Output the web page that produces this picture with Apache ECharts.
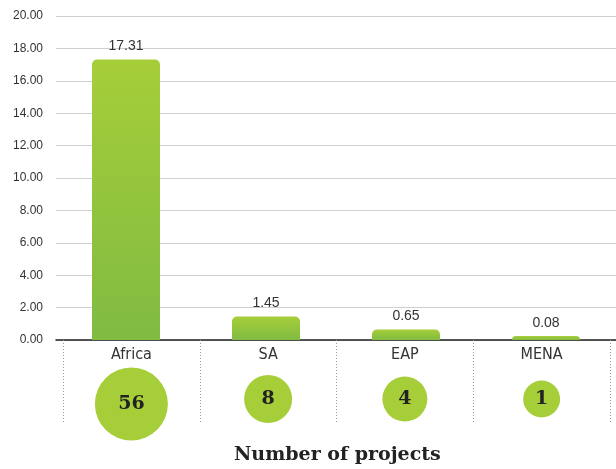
<!DOCTYPE html>
<html>
<head>
<meta charset="utf-8">
<script src="https://cdn.jsdelivr.net/npm/echarts@6/dist/echarts.min.js"></script>
<style>
html,body{margin:0;padding:0;background:#fff;}
#chart{width:616px;height:469px;}
</style>
</head>
<body>
<div id="chart"></div>
<script>
const categories = ['Africa', 'SA', 'EAP', 'MENA'];
const values = [17.31, 1.45, 0.65, 0.08];
const projects = [56, 8, 4, 1];
const yTicks = { min: 0, max: 20, interval: 2 };
const circleSizes = [73, 48, 45, 37];

const chart = echarts.init(document.getElementById('chart'));
const option = {
  animation: false,
  grid: [
    { left: 56, right: 0, top: 16, bottom: 129 },
    { left: 63, right: 6, top: 340, bottom: 11 }
  ],
  xAxis: [
    {
      gridIndex: 0, type: 'category', data: categories,
      axisLine: { show: true, lineStyle: { color: '#222', width: 1.5 } },
      axisTick: { show: false }, axisLabel: { show: false }
    },
    {
      gridIndex: 1, type: 'category', data: categories, position: 'top',
      axisLine: { show: false },
      axisTick: { show: true, inside: true, length: 84, lineStyle: { color: '#999', type: [1, 2], width: 1 } },
      axisLabel: {
        show: true, inside: true, margin: 7,
        fontFamily: '"DejaVu Sans Condensed", "Liberation Sans Narrow", "Liberation Sans", sans-serif',
        fontSize: 16, color: '#333'
      }
    }
  ],
  yAxis: [
    {
      gridIndex: 0, type: 'value', min: yTicks.min, max: yTicks.max, interval: yTicks.interval,
      axisLine: { show: false }, axisTick: { show: false },
      axisLabel: {
        margin: 13, fontFamily: '"Liberation Sans", Arial, sans-serif', fontSize: 12, color: '#333',
        formatter: v => v.toFixed(2)
      },
      splitLine: { lineStyle: { color: '#cfcfcf', width: 1 } }
    },
    {
      gridIndex: 1, type: 'category', data: ['projects'], show: false
    }
  ],
  series: [
    {
      type: 'bar', xAxisIndex: 0, yAxisIndex: 0, data: values,
      barWidth: 68, barMinHeight: 4,
      itemStyle: {
        borderRadius: [5, 5, 0, 0],
        color: new echarts.graphic.LinearGradient(0, 0, 0, 1, [
          { offset: 0, color: '#a6ce39' },
          { offset: 1, color: '#80bb42' }
        ])
      },
      label: {
        show: true, position: 'top', distance: 6,
        fontFamily: '"Liberation Sans", Arial, sans-serif', fontSize: 14, color: '#333',
        formatter: p => p.value.toFixed(2)
      }
    },
    {
      type: 'scatter', xAxisIndex: 1, yAxisIndex: 1,
      data: projects.map((c, i) => ({
        value: [categories[i], 'projects', c],
        symbolSize: circleSizes[i],
        symbolOffset: [0, i === 0 ? 5 : 0]
      })),
      itemStyle: { color: '#a6ce39', opacity: 1 },
      label: {
        show: true, position: 'inside',
        fontFamily: '"DejaVu Serif", serif', fontWeight: 'bold', fontSize: 19, color: '#222',
        formatter: p => String(p.value[2])
      }
    }
  ],
  graphic: [
    {
      type: 'text', left: 234, top: 446,
      style: {
        text: 'Number of projects',
        font: 'bold 19px "DejaVu Serif", serif',
        fill: '#222'
      }
    }
  ]
};
chart.setOption(option);
</script>
</body>
</html>
